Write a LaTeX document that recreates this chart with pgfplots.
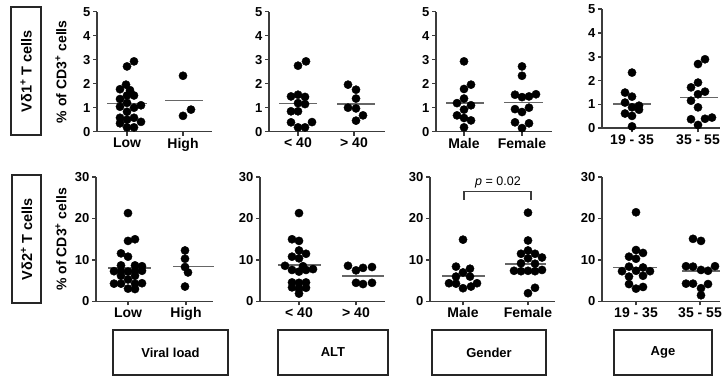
\documentclass[border=0pt]{standalone}
\usepackage{fontspec}
\setmainfont{Liberation Sans}
\usepackage{pgfplots}
\pgfplotsset{compat=1.18}
\definecolor{axgray}{HTML}{3C3C3C}
\definecolor{meangray}{HTML}{666666}
\pgfplotsset{
  panel/.style={
    scale only axis, anchor=south west, clip=false,
    axis lines*=left,
    axis line style={-, axgray, line width=1.6pt},
    tick style={axgray, line width=1.6pt},
    tick align=outside, major tick length=4pt,
    ymin=0,
    /pgf/number format/assume math mode=true,
    xticklabel style={font=\fontsize{14}{14}\selectfont\bfseries, inner sep=2pt},
    yticklabel style={font=\fontsize{13}{13}\selectfont\bfseries, inner sep=2.5pt},
    ylabel style={font=\fontsize{14}{14}\selectfont\bfseries, anchor=center},
  },
  toprow/.style={panel, ymax=5, ytick={0,1,2,3,4,5}, height=120pt},
  botrow/.style={panel, ymax=30, ytick={0,10,20,30}, height=124.5pt},
  dots/.style={only marks, mark=*, mark size=4.1pt, mark options={draw=black, fill=black}},
  mean/.style={meangray, line width=1.7pt, no marks},
}
\begin{document}
\begin{tikzpicture}
\useasboundingbox (0pt,0pt) rectangle (722pt,379pt);
% row label boxes
\draw[line width=1.1pt, black!85] (11pt,244pt) rectangle (41pt,372pt);
\node[rotate=90, font=\fontsize{14.5}{14.5}\selectfont\bfseries] at (26pt,308pt) {Vδ1\textsuperscript{+} T cells};
\draw[line width=1.1pt, black!85] (12pt,76pt) rectangle (41pt,204pt);
\node[rotate=90, font=\fontsize{14.5}{14.5}\selectfont\bfseries] at (26.5pt,140pt) {Vδ2\textsuperscript{+} T cells};
% column label boxes
\draw[line width=1.1pt, black!85] (113pt,4pt) rectangle (228pt,49pt);
\node[font=\fontsize{13}{13}\selectfont\bfseries] at (170.5pt,26.5pt) {Viral load};
\draw[line width=1.1pt, black!85] (278pt,4pt) rectangle (388pt,49pt);
\node[font=\fontsize{13}{13}\selectfont\bfseries] at (333pt,26.5pt) {ALT};
\draw[line width=1.1pt, black!85] (432pt,4pt) rectangle (546pt,49pt);
\node[font=\fontsize{13}{13}\selectfont\bfseries] at (489pt,26.5pt) {Gender};
\draw[line width=1.1pt, black!85] (614pt,4pt) rectangle (712pt,49pt);
\node[font=\fontsize{13}{13}\selectfont\bfseries] at (663pt,26.5pt) {Age};

% ===== TOP ROW =====
\begin{axis}[toprow, at={(97pt,247.3pt)}, width=115pt, xmin=97, xmax=212,
  xtick={127,183}, xticklabels={Low,High},
  ylabel={\% of CD3\textsuperscript{+} cells},
  ylabel style={at={(axis description cs:-0.313,0.5)}}]
\addplot[mean] coordinates {(107,1.17) (147,1.17)};
\addplot[mean] coordinates {(165,1.30) (203,1.30)};
\addplot[dots] coordinates {(134,2.93) (127,2.72) (126,1.96) (120,1.77) (130,1.73)
 (127,1.51) (134,1.51) (120,1.36) (127,1.20) (141,1.10)
 (120,1.04) (134,1.00) (127,0.83) (120,0.58) (134,0.58)
 (127,0.50) (141,0.41) (120,0.35) (127,0.18) (134,0.18)};
\addplot[dots] coordinates {(183,2.33) (191,0.92) (183,0.66)};
\end{axis}

\begin{axis}[toprow, at={(269pt,247.3pt)}, width=116pt, xmin=269, xmax=385,
  xtick={298,354}, xticklabels={< 40,> 40}]
\addplot[mean] coordinates {(279,1.17) (317,1.17)};
\addplot[mean] coordinates {(337,1.15) (375,1.15)};
\addplot[dots] coordinates {(306,2.93) (298,2.75) (291,1.47) (298,1.54) (305,1.45)
 (298,1.19) (305,1.15) (291,0.85) (298,0.85) (291,0.39) (312,0.40) (298,0.18) (305,0.18)};
\addplot[dots] coordinates {(348,1.96) (356,1.75) (356,1.38) (348,1.00) (356,0.97) (363,0.68) (356,0.46)};
\end{axis}

\begin{axis}[toprow, at={(436pt,247.3pt)}, width=116pt, xmin=436, xmax=552,
  xtick={464,522}, xticklabels={Male,Female}]
\addplot[mean] coordinates {(446,1.19) (484,1.19)};
\addplot[mean] coordinates {(504,1.22) (543,1.22)};
\addplot[dots] coordinates {(464,2.93) (471,1.96) (464,1.78) (464,1.38) (457,1.19) (471,1.10)
 (464,0.92) (457,0.68) (464,0.57) (471,0.47) (464,0.18)};
\addplot[dots] coordinates {(522,2.72) (522,2.33) (515,1.54) (522,1.44) (529,1.47) (536,1.56)
 (515,0.94) (529,1.00) (522,0.82) (515,0.39) (529,0.35) (522,0.15)};
\end{axis}

\begin{axis}[toprow, at={(602pt,250.7pt)}, width=118pt, height=119pt, xmin=602, xmax=720,
  xtick={632,698}, xticklabels={19 - 35,35 - 55}]
\addplot[mean] coordinates {(613,1.02) (651,1.02)};
\addplot[mean] coordinates {(680,1.29) (718,1.29)};
\addplot[dots] coordinates {(632,2.34) (625,1.50) (632,1.33) (625,1.08) (639,0.95) (632,0.88)
 (639,0.78) (625,0.62) (632,0.52) (632,0.08)};
\addplot[dots] coordinates {(705,2.90) (698,2.70) (698,1.92) (691,1.72) (705,1.54) (698,1.43)
 (691,1.16) (698,0.88) (691,0.38) (705,0.40) (712,0.45) (698,0.14)};
\end{axis}

% ===== BOTTOM ROW =====
\begin{axis}[botrow, at={(96pt,77.5pt)}, width=117pt, xmin=96, xmax=213,
  xtick={128,186}, xticklabels={Low,High},
  ylabel={\% of CD3\textsuperscript{+} cells},
  ylabel style={at={(axis description cs:-0.30,0.5)}}]
\addplot[mean] coordinates {(108,8.1) (151,8.1)};
\addplot[mean] coordinates {(173,8.4) (214,8.4)};
\addplot[dots] coordinates {(128,21.3) (128,14.6) (135,15.0) (121,11.6) (128,10.8)
 (121,8.7) (135,8.7) (142,8.5)
 (114,7.3) (121,7.3) (128,7.2) (135,7.3) (142,7.4)
 (121,6.2) (135,6.2) (128,5.3)
 (114,4.3) (121,4.3) (135,4.3) (142,4.4)
 (128,3.1) (135,3.0)};
\addplot[dots] coordinates {(185,12.3) (185,10.3) (185,8.3) (188,7.0) (185,3.6)};
\end{axis}

\begin{axis}[botrow, at={(260pt,77.5pt)}, width=125pt, xmin=260, xmax=385,
  xtick={299,356}, xticklabels={< 40,> 40}]
\addplot[mean] coordinates {(278,8.8) (321,8.8)};
\addplot[mean] coordinates {(342,6.2) (384,6.2)};
\addplot[dots] coordinates {(299,21.3) (292,15.0) (299,14.6) (299,12.3) (306,11.5) (292,10.8)
 (299,10.4) (285,8.6) (303,8.5) (292,7.6) (299,7.2) (306,7.6) (313,7.8)
 (292,4.6) (299,4.5) (306,4.6) (292,3.4) (306,3.3) (299,3.0) (299,1.9)};
\addplot[dots] coordinates {(348,8.6) (356,7.5) (356,4.5) (363,8.1) (372,8.3) (363,4.2) (372,4.5)};
\end{axis}

\begin{axis}[botrow, at={(430pt,77.5pt)}, width=125pt, xmin=430, xmax=555,
  xtick={463,528}, xticklabels={Male,Female}]
\addplot[mean] coordinates {(442,6.2) (485,6.2)};
\addplot[mean] coordinates {(505,9.1) (546,9.1)};
\addplot[dots] coordinates {(463,14.9) (456,8.4) (470,7.9) (463,7.0) (456,6.0) (470,6.0)
 (449,4.4) (456,4.3) (477,4.4) (471,3.6) (463,3.2)};
\addplot[dots] coordinates {(528,21.4) (528,14.7) (528,12.3) (521,11.5) (535,11.5) (528,10.4)
 (542,10.6) (521,9.2) (535,9.1) (514,7.4) (521,7.3) (528,7.4) (535,7.3) (542,7.6)
 (528,2.0) (535,3.3)};
\addplot[axgray, line width=1.3pt, no marks] coordinates {(464,24.5) (464,26.5) (531,26.5) (531,24.5)};
\node[font=\fontsize{12.5}{12.5}\selectfont] at (axis cs:498,28.6) {\textit{p} = 0.02};
\end{axis}

\begin{axis}[botrow, at={(602pt,77.5pt)}, width=118pt, xmin=602, xmax=720,
  xtick={636,700}, xticklabels={19 - 35,35 - 55}]
\addplot[mean] coordinates {(613,8.2) (657,8.2)};
\addplot[mean] coordinates {(682,7.4) (720,7.4)};
\addplot[dots] coordinates {(636,21.5) (636,12.4) (643,11.7) (629,10.8) (636,10.3) (629,8.4)
 (643,8.2) (622,7.3) (636,7.4) (650,7.3) (629,6.0) (643,6.2) (629,4.2) (643,3.5) (636,3.1)};
\addplot[dots] coordinates {(693,15.1) (701,14.6) (686,8.5) (693,8.4) (715,8.5) (701,7.6)
 (708,7.4) (686,4.3) (693,4.3) (708,4.2) (701,3.2) (701,1.5)};
\end{axis}
\end{tikzpicture}
\end{document}
